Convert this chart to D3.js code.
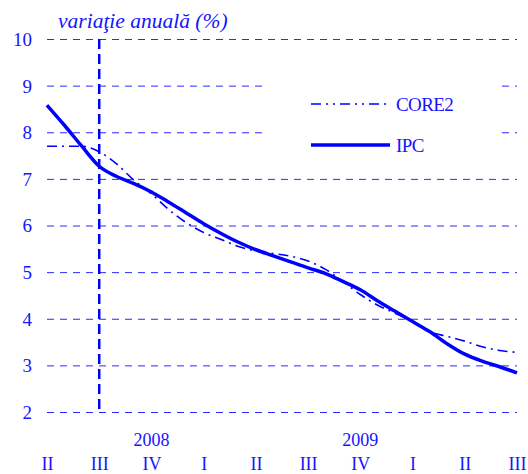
<!DOCTYPE html>
<html>
<head>
<meta charset="utf-8">
<script src="https://cdn.jsdelivr.net/npm/d3@7"></script>
<style>
  html, body { margin: 0; padding: 0; background: #fff; }
  svg { display: block; }
  text { font-family: "Liberation Serif", "Times New Roman", serif; fill: #1414ff; }
</style>
</head>
<body>
<svg id="chart" width="528" height="474"></svg>
<script>
// Annual inflation rates, monthly from April 2008 (II) to September 2010 (III)
const quarterLabels = ["II", "III", "IV", "I", "II", "III", "IV", "I", "II", "III"];
const yearLabels = [{ label: "2008", month: 6 }, { label: "2009", month: 18 }];
const yTicks = [2, 3, 4, 5, 6, 7, 8, 9, 10];
const ipc = [8.58, 8.15, 7.70, 7.27, 7.05, 6.90, 6.72, 6.50, 6.27, 6.04, 5.83, 5.64,
             5.48, 5.35, 5.22, 5.09, 4.97, 4.80, 4.62, 4.38, 4.16, 3.94, 3.72, 3.46,
             3.24, 3.09, 2.97, 2.84];
const core2 = [7.70, 7.70, 7.70, 7.58, 7.32, 6.97, 6.68, 6.34, 6.06, 5.85, 5.70, 5.55,
               5.45, 5.40, 5.34, 5.24, 5.06, 4.80, 4.52, 4.29, 4.12, 3.94, 3.72, 3.62,
               3.52, 3.40, 3.32, 3.28];
const forecastStart = 3; // month index of the vertical separator (III 2008)

const blue = "#0000ff";
const gridBlue = "#2a2aff";
const serif = "'Liberation Serif', 'Times New Roman', serif";

const svg = d3.select("#chart");
const plotLeft = 47, plotRight = 517, plotTop = 39, plotBottom = 412;

const x = d3.scaleLinear().domain([0, ipc.length - 1]).range([plotLeft, plotRight]);
const y = d3.scaleLinear().domain([2, 10]).range([plotBottom, plotTop]);

// y axis with dashed gridlines
const yAxis = svg.append("g")
  .attr("transform", `translate(${plotLeft},0)`)
  .call(d3.axisLeft(y).tickValues(yTicks).tickSize(-(plotRight - plotLeft)).tickPadding(15).tickFormat(d3.format("d")));
yAxis.select(".domain").remove();
yAxis.selectAll(".tick line")
  .attr("stroke", gridBlue).attr("stroke-width", 1).attr("stroke-dasharray", "7,6");
yAxis.selectAll(".tick text")
  .attr("font-size", 19).attr("fill", "#1414ff").attr("dy", "0.34em")
  .style("font-family", serif);

// x axis: quarter labels
const xAxis = svg.append("g")
  .attr("transform", `translate(0,${plotBottom})`)
  .call(d3.axisBottom(x)
    .tickValues(quarterLabels.map((_, i) => i * 3))
    .tickSize(0).tickPadding(45)
    .tickFormat((d, i) => quarterLabels[i]));
xAxis.select(".domain").remove();
xAxis.selectAll(".tick text")
  .attr("font-size", 18).attr("fill", "#1414ff")
  .style("font-family", serif);

// year labels
svg.selectAll(".year").data(yearLabels).enter().append("text")
  .attr("class", "year")
  .attr("x", d => x(d.month))
  .attr("y", 446)
  .attr("text-anchor", "middle")
  .attr("font-size", 18)
  .style("font-family", serif)
  .text(d => d.label);

// vertical separator
svg.append("line")
  .attr("x1", x(forecastStart)).attr("x2", x(forecastStart))
  .attr("y1", y(10)).attr("y2", y(2))
  .attr("stroke", blue).attr("stroke-width", 2.5).attr("stroke-dasharray", "10,5");

// legend background
svg.append("rect")
  .attr("x", 263).attr("y", 62).attr("width", 235).attr("height", 100)
  .attr("fill", "#fff");

// unit title
svg.append("text")
  .attr("x", 58).attr("y", 28)
  .attr("font-size", 21.5)
  .style("font-family", serif)
  .style("font-style", "italic")
  .text("variaţie anuală (%)");

const line = d3.line()
  .x((d, i) => x(i))
  .y(d => y(d))
  .curve(d3.curveMonotoneX);

svg.append("path").datum(core2)
  .attr("d", line).attr("fill", "none")
  .attr("stroke", blue).attr("stroke-width", 1.6).attr("stroke-dasharray", "10,5,2,5");

svg.append("path").datum(ipc)
  .attr("d", line).attr("fill", "none")
  .attr("stroke", blue).attr("stroke-width", 3.5).attr("stroke-linejoin", "round");

// legend
const legend = [
  { name: "CORE2", width: 1.6, dash: "10,5,2,5,2,5", yPos: 104 },
  { name: "IPC", width: 3.5, dash: null, yPos: 145 }
];
const lg = svg.selectAll(".legend").data(legend).enter().append("g").attr("class", "legend");
lg.append("line")
  .attr("x1", 311).attr("x2", 390)
  .attr("y1", d => d.yPos).attr("y2", d => d.yPos)
  .attr("stroke", blue).attr("stroke-width", d => d.width)
  .attr("stroke-dasharray", d => d.dash);
lg.append("text")
  .attr("x", 396).attr("y", d => d.yPos).attr("dy", "0.35em")
  .attr("font-size", 19).attr("letter-spacing", "-0.6")
  .style("font-family", serif)
  .text(d => d.name);
</script>
</body>
</html>
